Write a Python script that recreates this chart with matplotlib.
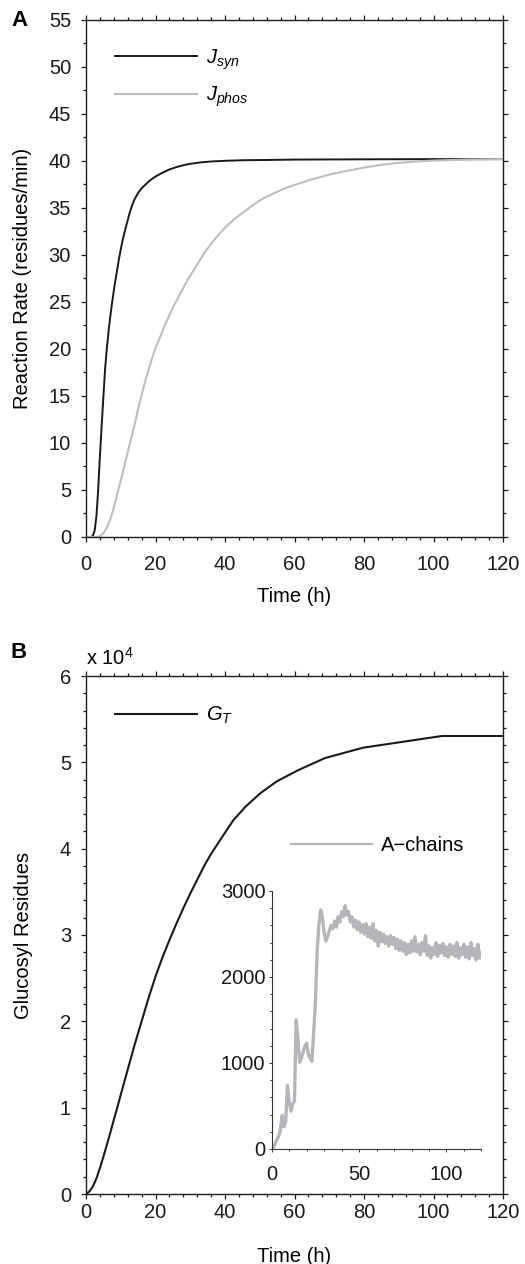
import matplotlib
matplotlib.use('Agg')
import matplotlib.pyplot as plt
from matplotlib.ticker import MultipleLocator

plt.rcParams['font.family'] = ['Liberation Sans', 'DejaVu Sans']
plt.rcParams['mathtext.fontset'] = 'custom'
plt.rcParams['mathtext.rm'] = 'Liberation Sans'
plt.rcParams['mathtext.it'] = 'Liberation Sans:italic'
plt.rcParams['mathtext.bf'] = 'Liberation Sans:bold'

# ---------------- data ----------------
t_syn = [0, 1, 1.5, 2, 2.5, 3, 3.5, 4, 4.5, 5, 5.5, 6, 6.5, 7, 7.5, 8, 8.5, 9, 9.5, 10, 10.5,
         11, 11.5, 12, 12.5, 13, 13.5, 14, 15, 16, 17, 18, 19, 20, 22, 24, 26, 28, 30, 33, 36,
         40, 45, 50, 60, 80, 100, 120]
J_syn = [0, 0, 0.0, 0.15, 0.7, 2.2, 5.0, 8.6, 11.8, 14.9, 17.9, 20.1, 21.9, 23.5, 24.9, 26.2,
         27.4, 28.5, 29.6, 30.6, 31.5, 32.3, 33.0, 33.7, 34.4, 35.0, 35.5, 35.95, 36.6, 37.1,
         37.45, 37.8, 38.1, 38.35, 38.75, 39.1, 39.35, 39.55, 39.7, 39.85, 39.95, 40.02, 40.08,
         40.1, 40.15, 40.18, 40.2, 40.2]

t_phos = [0, 3, 4, 5, 6, 7, 8, 9, 10, 11, 12, 13, 14, 15, 16, 17, 18, 19, 20, 21, 22, 23, 24,
          25, 26, 27, 28, 29, 30, 32, 34, 36, 38, 40, 42, 44, 46, 48, 50, 52, 54, 56, 58, 60,
          65, 70, 75, 80, 85, 90, 95, 100, 110, 120]
J_phos = [0, 0, 0.08, 0.4, 1.0, 1.9, 3.1, 4.6, 6.0, 7.5, 9.0, 10.5, 12.0, 13.6, 15.1, 16.5,
          17.8, 19.0, 20.1, 21.0, 21.9, 22.8, 23.6, 24.4, 25.1, 25.8, 26.5, 27.2, 27.8, 29.0,
          30.2, 31.2, 32.1, 32.9, 33.6, 34.2, 34.75, 35.3, 35.8, 36.2, 36.55, 36.9, 37.2, 37.45,
          38.05, 38.55, 38.95, 39.3, 39.6, 39.8, 39.95, 40.05, 40.15, 40.2]

t_GT = [0, 1, 2, 3, 4, 5, 6, 7, 8, 9, 10, 12, 14, 16, 18, 20, 22, 24, 26, 28, 30, 32, 34, 36,
        38.6, 42.4, 46, 50.1, 54.9, 61.1, 68.8, 79.8, 102.4, 120]
G_T = [0, 300, 900, 1800, 3000, 4300, 5700, 7100, 8600, 10000, 11500, 14400, 17300, 20000,
       22700, 25200, 27400, 29400, 31300, 33100, 34800, 36400, 38000, 39400, 41000, 43300,
       44900, 46400, 47800, 49100, 50500, 51700, 53050, 53050]

t_A = list(range(0, 121))
A_chains = [0, 20, 60, 110, 150, 220, 390, 260, 320, 740, 560, 440, 520, 560, 1500, 1280,
            1010, 1060, 1130, 1200, 1230, 1100, 1060, 1020, 1350, 1700, 2300, 2600, 2780, 2700,
            2520, 2420, 2470, 2540, 2600, 2560, 2650, 2580, 2700, 2640, 2760, 2700, 2830, 2720,
            2760, 2640, 2700, 2580, 2660, 2550, 2640, 2520, 2610, 2500, 2620, 2470, 2580, 2450,
            2620, 2420, 2540, 2360, 2520, 2410, 2500, 2390, 2470, 2360, 2480, 2380, 2460, 2330,
            2440, 2310, 2420, 2300, 2400, 2260, 2380, 2280, 2420, 2300, 2470, 2290, 2380, 2260,
            2400, 2300, 2480, 2250, 2360, 2220, 2340, 2260, 2400, 2240, 2370, 2280, 2390, 2250,
            2350, 2230, 2380, 2260, 2360, 2240, 2400, 2220, 2340, 2260, 2380, 2230, 2350, 2210,
            2400, 2250, 2330, 2200, 2380, 2220, 2280]

xticks = [0, 20, 40, 60, 80, 100, 120]
yticksA = [0, 5, 10, 15, 20, 25, 30, 35, 40, 45, 50, 55]
yticksB = [0, 1, 2, 3, 4, 5, 6]
inset_xticks = [0, 50, 100]
inset_yticks = [0, 1000, 2000, 3000]

BLACK = '#1a1a1a'
GRAY = '#bebebe'
GRAY2 = '#b5b6b9'
FS = 14.5

W, H = 525, 1264
fig = plt.figure(figsize=(W / 100, H / 100), dpi=100)


def rect(l, t, r, b):
    return [l / W, 1 - b / H, (r - l) / W, (b - t) / H]


def style_main(ax, xpad):
    for s in ax.spines.values():
        s.set_linewidth(1.0)
        s.set_color(BLACK)
    ax.tick_params(which='both', direction='out', top=True, right=True,
                   labeltop=False, labelright=False, labelsize=FS, width=0.9, colors=BLACK)
    ax.tick_params(which='major', length=3.8, pad=7)
    ax.tick_params(which='minor', length=2.0)
    ax.tick_params(axis='x', which='major', pad=xpad)
    ax.xaxis.set_minor_locator(MultipleLocator(4))


axA = fig.add_axes(rect(86, 20, 503, 537))
axB = fig.add_axes(rect(86, 676, 503, 1194))
axI = fig.add_axes(rect(271.7, 891, 481.4, 1149))

# ---- Panel A ----
axA.plot(t_syn, J_syn, color=BLACK, lw=1.4, label=r'$J_{syn}$')
axA.plot(t_phos, J_phos, color=GRAY, lw=1.5, label=r'$J_{phos}$')
axA.set_xlim(0, 120)
axA.set_ylim(0, 55)
axA.set_xticks(xticks)
axA.set_yticks(yticksA)
style_main(axA, 9.5)
axA.yaxis.set_minor_locator(MultipleLocator(2.5))
axA.set_xlabel('Time (h)', fontsize=FS, labelpad=9)
axA.set_ylabel('Reaction Rate (residues/min)', fontsize=FS, labelpad=12)
axA.legend(loc='upper left', bbox_to_anchor=(115 / W, 1 - 47 / H), bbox_transform=fig.transFigure,
           frameon=False, fontsize=FS, handlelength=4.05, handletextpad=0.45,
           labelspacing=0.65, borderaxespad=0, borderpad=0)

# ---- Panel B ----
axB.plot(t_GT, [g / 1e4 for g in G_T], color=BLACK, lw=1.5, label=r'$G_T$')
axB.set_xlim(0, 120)
axB.set_ylim(0, 6)
axB.set_xticks(xticks)
axB.set_yticks(yticksB)
style_main(axB, 2.5)
axB.yaxis.set_minor_locator(MultipleLocator(0.2))
axB.set_xlabel('Time (h)', fontsize=FS, labelpad=18)
axB.set_ylabel('Glucosyl Residues', fontsize=FS, labelpad=19)
axB.legend(loc='upper left', bbox_to_anchor=(115 / W, 1 - 705 / H), bbox_transform=fig.transFigure,
           frameon=False, fontsize=FS, handlelength=4.05, handletextpad=0.45,
           borderaxespad=0, borderpad=0)
fig.text(86 / W, 1 - 665 / H, r'x 10$^4$', fontsize=FS, ha='left', va='baseline')

# ---- Inset ----
axI.plot(t_A, A_chains, color=GRAY2, lw=2.4, label='A\u2212chains')
axI.set_xlim(0, 120)
axI.set_ylim(0, 3000)
axI.set_xticks(inset_xticks)
axI.set_yticks(inset_yticks)
axI.xaxis.set_minor_locator(MultipleLocator(10))
axI.yaxis.set_minor_locator(MultipleLocator(200))
axI.spines['top'].set_visible(False)
axI.spines['right'].set_visible(False)
for s in ['left', 'bottom']:
    axI.spines[s].set_linewidth(0.8)
    axI.spines[s].set_color('#333333')
axI.patch.set_alpha(0)
axI.tick_params(which='both', direction='out', labelsize=FS, width=0.7, colors='#333333',
                labelcolor=BLACK)
axI.tick_params(which='major', length=2.5, pad=2)
axI.tick_params(which='minor', length=1.2)
axI.tick_params(axis='x', which='major', pad=9)
legI = axI.legend(loc='upper left', bbox_to_anchor=(290.7 / W, 1 - 836 / H),
                  bbox_transform=fig.transFigure, frameon=False, fontsize=FS,
                  handlelength=4.05, handletextpad=0.45, borderaxespad=0, borderpad=0)
for ln in legI.get_lines():
    ln.set_linewidth(1.6)

# panel letters
fig.text(11 / W, 1 - 21 / H, 'A', fontsize=16, fontweight='bold', ha='left', va='center')
fig.text(10 / W, 1 - 653 / H, 'B', fontsize=16, fontweight='bold', ha='left', va='center')

fig.savefig('out.png', dpi=100)
